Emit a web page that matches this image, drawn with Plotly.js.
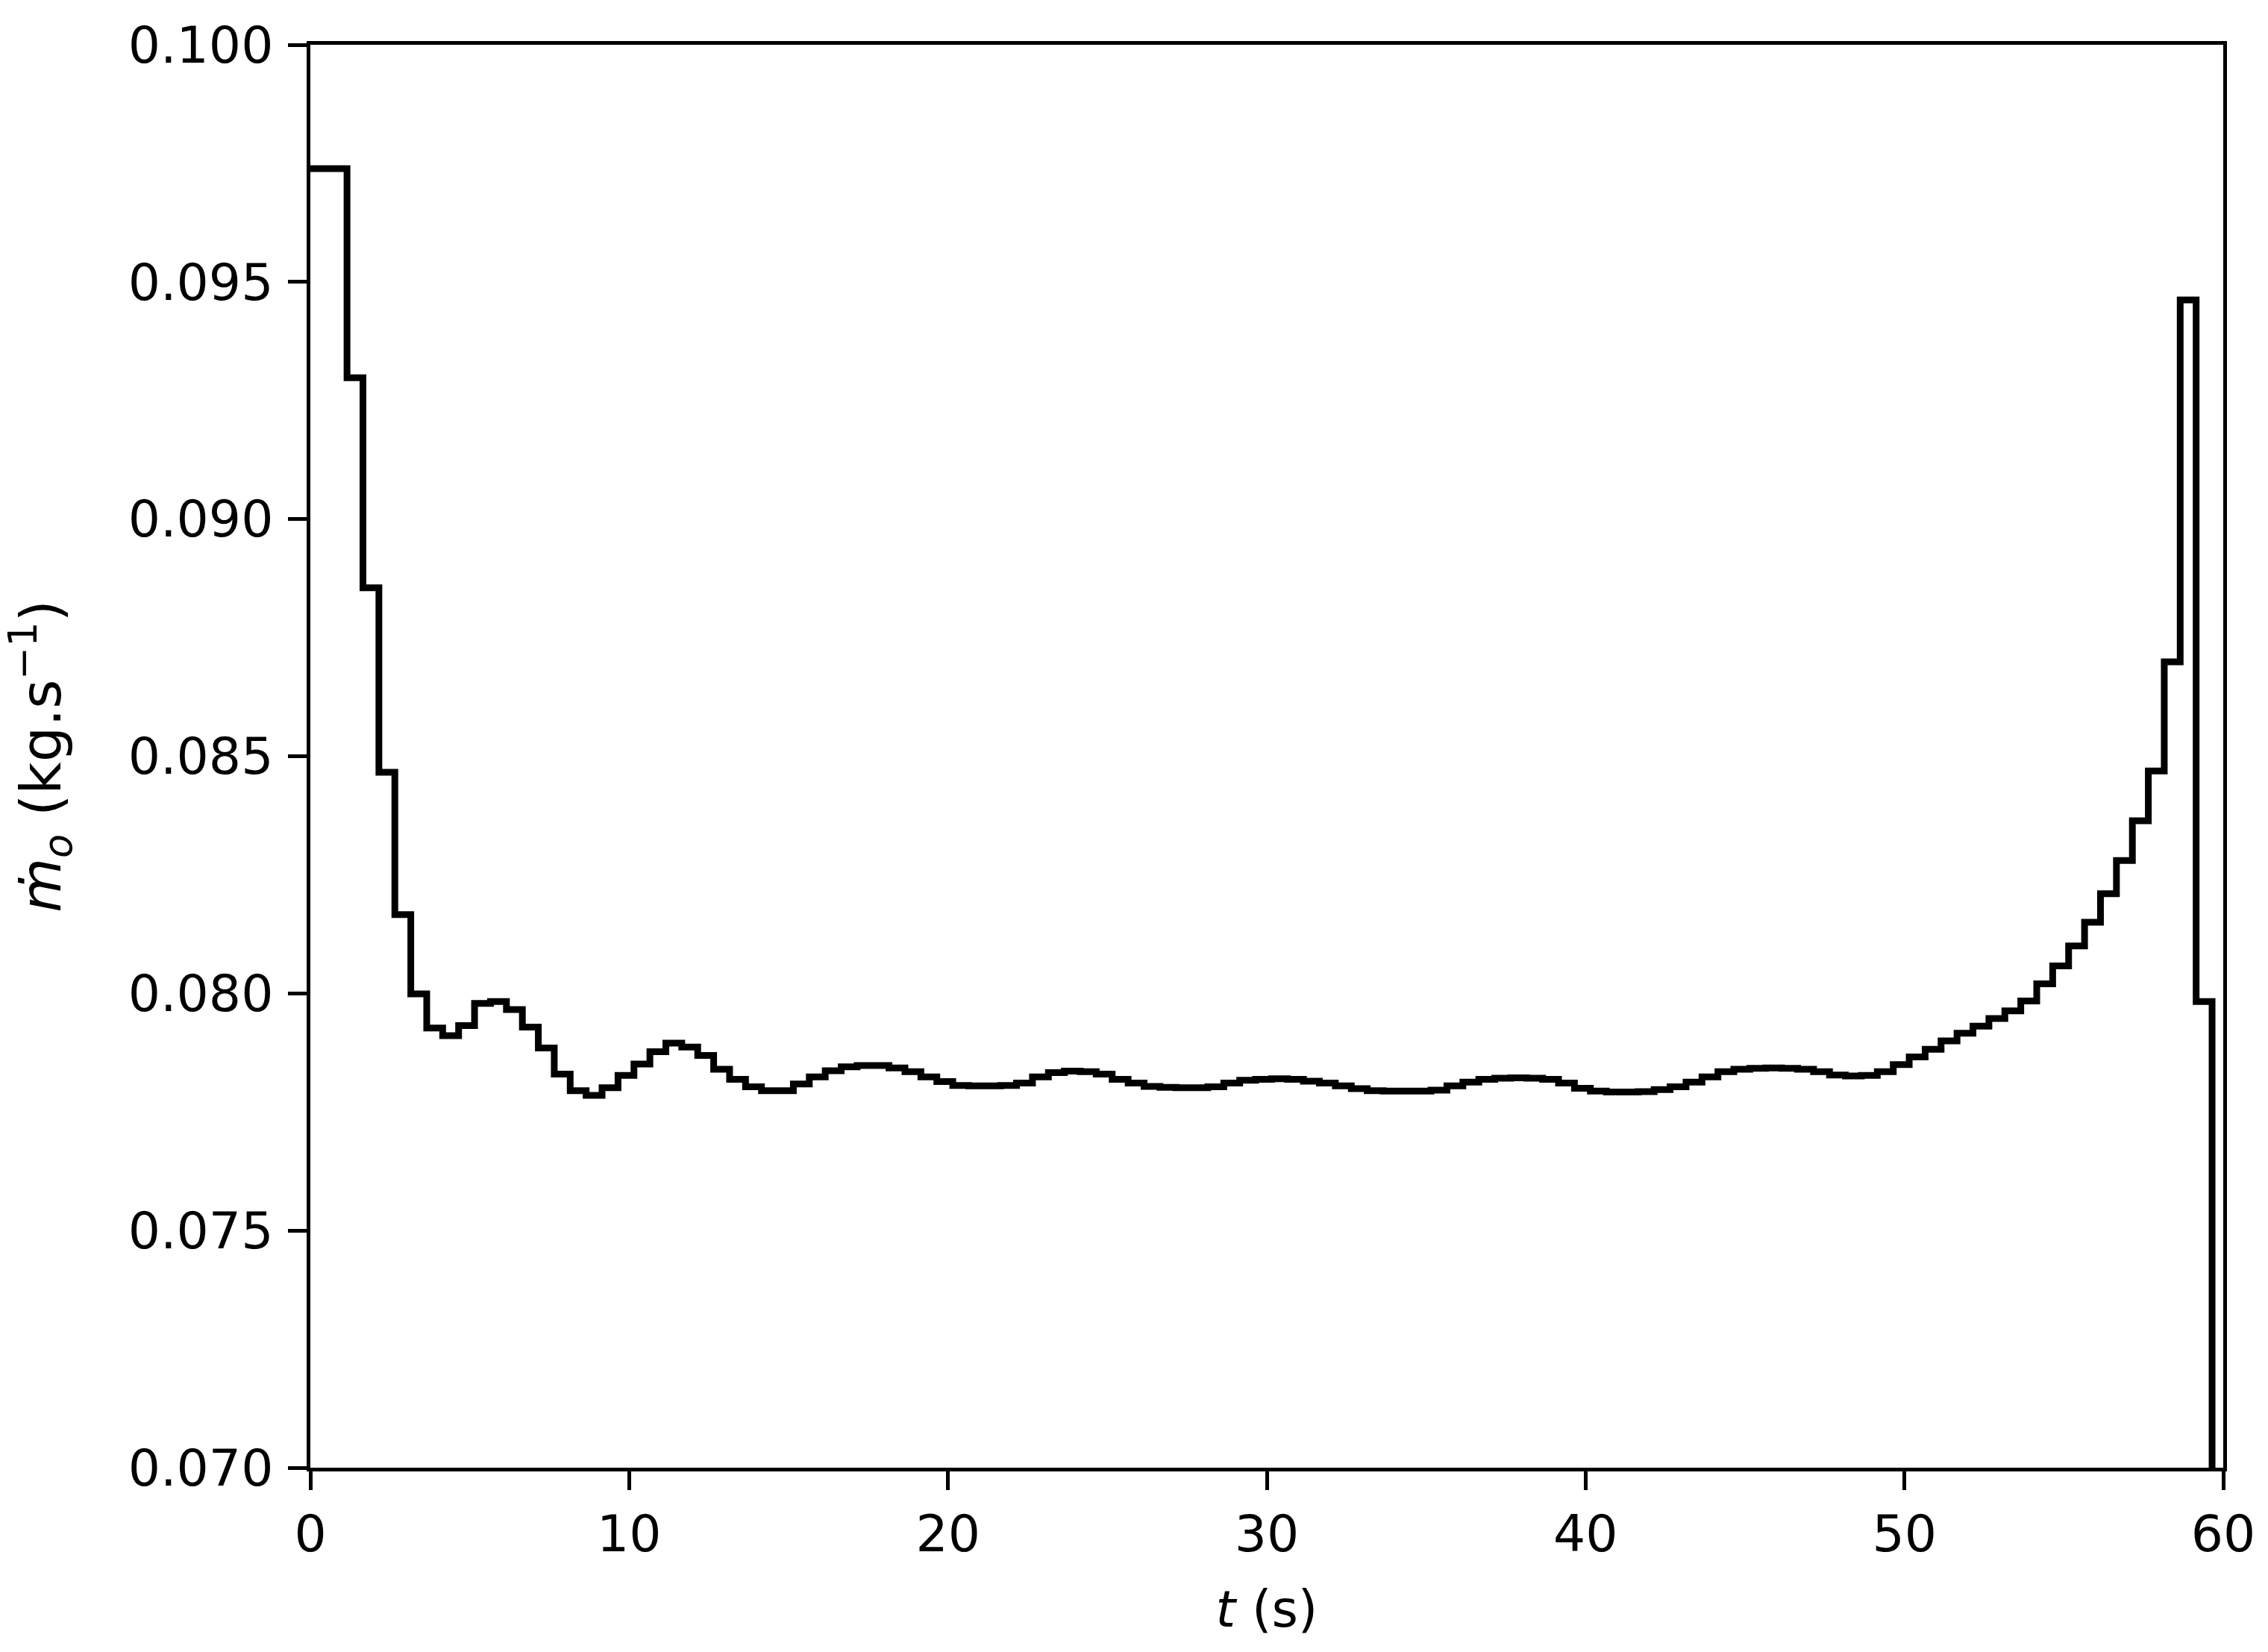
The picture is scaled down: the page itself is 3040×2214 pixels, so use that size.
<!DOCTYPE html>
<html>
<head>
<meta charset="utf-8">
<script src="https://cdn.plot.ly/plotly-3.0.1.min.js"></script>
<style>
  html, body { margin: 0; padding: 0; background: #ffffff; }
  #chart { width: 3040px; height: 2214px; }
</style>
</head>
<body>
<div id="chart"></div>
<script>
// Step edges (s): each value holds from its edge to the next edge
const tEdges = [
  0, 1.15, 1.65, 2.15, 2.65, 3.15, 3.65, 4.15, 4.65, 5.15,
  5.65, 6.15, 6.65, 7.15, 7.65, 8.15, 8.65, 9.15, 9.65, 10.15,
  10.65, 11.15, 11.65, 12.15, 12.65, 13.15, 13.65, 14.15, 14.65, 15.15,
  15.65, 16.15, 16.65, 17.15, 17.65, 18.15, 18.65, 19.15, 19.65, 20.15,
  20.65, 21.15, 21.65, 22.15, 22.65, 23.15, 23.65, 24.15, 24.65, 25.15,
  25.65, 26.15, 26.65, 27.15, 27.65, 28.15, 28.65, 29.15, 29.65, 30.15,
  30.65, 31.15, 31.65, 32.15, 32.65, 33.15, 33.65, 34.15, 34.65, 35.15,
  35.65, 36.15, 36.65, 37.15, 37.65, 38.15, 38.65, 39.15, 39.65, 40.15,
  40.65, 41.15, 41.65, 42.15, 42.65, 43.15, 43.65, 44.15, 44.65, 45.15,
  45.65, 46.15, 46.65, 47.15, 47.65, 48.15, 48.65, 49.15, 49.65, 50.15,
  50.65, 51.15, 51.65, 52.15, 52.65, 53.15, 53.65, 54.15, 54.65, 55.15,
  55.65, 56.15, 56.65, 57.15, 57.65, 58.15, 58.65, 59.15, 59.65, 60
];

// Oxidizer mass flow rate (kg/s) for each step
const mdotO = [
  0.09739, 0.09298, 0.08855, 0.08466, 0.08166, 0.07999, 0.07927, 0.07911, 0.07932, 0.07979,
  0.07983, 0.07966, 0.07929, 0.07885, 0.07830, 0.07795, 0.07785, 0.07801, 0.07827, 0.07851,
  0.07877, 0.07895, 0.07887, 0.07869, 0.07840, 0.07819, 0.07803, 0.07795, 0.07795, 0.07809,
  0.07824, 0.07837, 0.07845, 0.07848, 0.07848, 0.07843, 0.07835, 0.07824, 0.07814, 0.07806,
  0.07805, 0.07805, 0.07806, 0.07811, 0.07824, 0.07833, 0.07836, 0.07835, 0.07830, 0.07819,
  0.07811, 0.07804, 0.07802, 0.07801, 0.07801, 0.07803, 0.07811, 0.07817, 0.07819, 0.07820,
  0.07819, 0.07815, 0.07811, 0.07805, 0.07799, 0.07795, 0.07794, 0.07794, 0.07794, 0.07796,
  0.07805, 0.07813, 0.07819, 0.07821, 0.07822, 0.07821, 0.07819, 0.07811, 0.07800, 0.07794,
  0.07792, 0.07792, 0.07793, 0.07797, 0.07803, 0.07813, 0.07824, 0.07835, 0.07840, 0.07842,
  0.07843, 0.07842, 0.07840, 0.07835, 0.07828, 0.07826, 0.07827, 0.07835, 0.07850, 0.07866,
  0.07882, 0.07900, 0.07916, 0.07931, 0.07947, 0.07963, 0.07984, 0.08020, 0.08058, 0.08100,
  0.08150, 0.08210, 0.08280, 0.08364, 0.08469, 0.08699, 0.09462, 0.07983, 0.06
];

const xTicks = [0, 10, 20, 30, 40, 50, 60];
const yTicks = [0.070, 0.075, 0.080, 0.085, 0.090, 0.095, 0.100];
const xTickText = ['0', '10', '20', '30', '40', '50', '60'];
const yTickText = ['0.070', '0.075', '0.080', '0.085', '0.090', '0.095', '0.100'];

const yVals = mdotO.concat([mdotO[mdotO.length - 1]]);

const FONT = 'DejaVu Sans, Arial, sans-serif';

const trace = {
  type: 'scatter',
  mode: 'lines',
  x: tEdges,
  y: yVals,
  line: { shape: 'hv', color: '#000000', width: 9 },
  hoverinfo: 'skip',
  showlegend: false
};

const layout = {
  width: 3040,
  height: 2214,
  paper_bgcolor: '#ffffff',
  plot_bgcolor: '#ffffff',
  margin: { l: 416, r: 60, t: 60, b: 247, pad: 0 },
  font: { family: FONT, size: 68, color: '#000000' },
  showlegend: false,
  xaxis: {
    range: [0, 60],
    tickmode: 'array',
    tickvals: xTicks,
    ticktext: xTickText,
    ticks: 'outside',
    ticklen: 25,
    tickwidth: 5,
    tickcolor: '#000000',
    showline: true,
    linecolor: '#000000',
    linewidth: 5,
    mirror: true,
    showgrid: false,
    zeroline: false,
    tickfont: { family: FONT, size: 68, color: '#000000' },
    title: {
      text: '<i>t</i> (s)',
      font: { family: FONT, size: 68, color: '#000000' },
      standoff: 40
    }
  },
  yaxis: {
    range: [0.070, 0.100],
    tickmode: 'array',
    tickvals: yTicks,
    ticktext: yTickText,
    ticks: 'outside',
    ticklen: 25,
    tickwidth: 5,
    tickcolor: '#000000',
    ticklabelstandoff: 6,
    showline: true,
    linecolor: '#000000',
    linewidth: 5,
    mirror: true,
    showgrid: false,
    zeroline: false,
    tickfont: { family: FONT, size: 68, color: '#000000' },
    title: {
      text: '<i>ṁ</i><sub><i>o</i></sub> (kg.s<sup>−1</sup>)',
      font: { family: FONT, size: 75, color: '#000000' },
      standoff: 68
    }
  }
};

Plotly.newPlot('chart', [trace], layout, { staticPlot: true, displayModeBar: false });
</script>
</body>
</html>
